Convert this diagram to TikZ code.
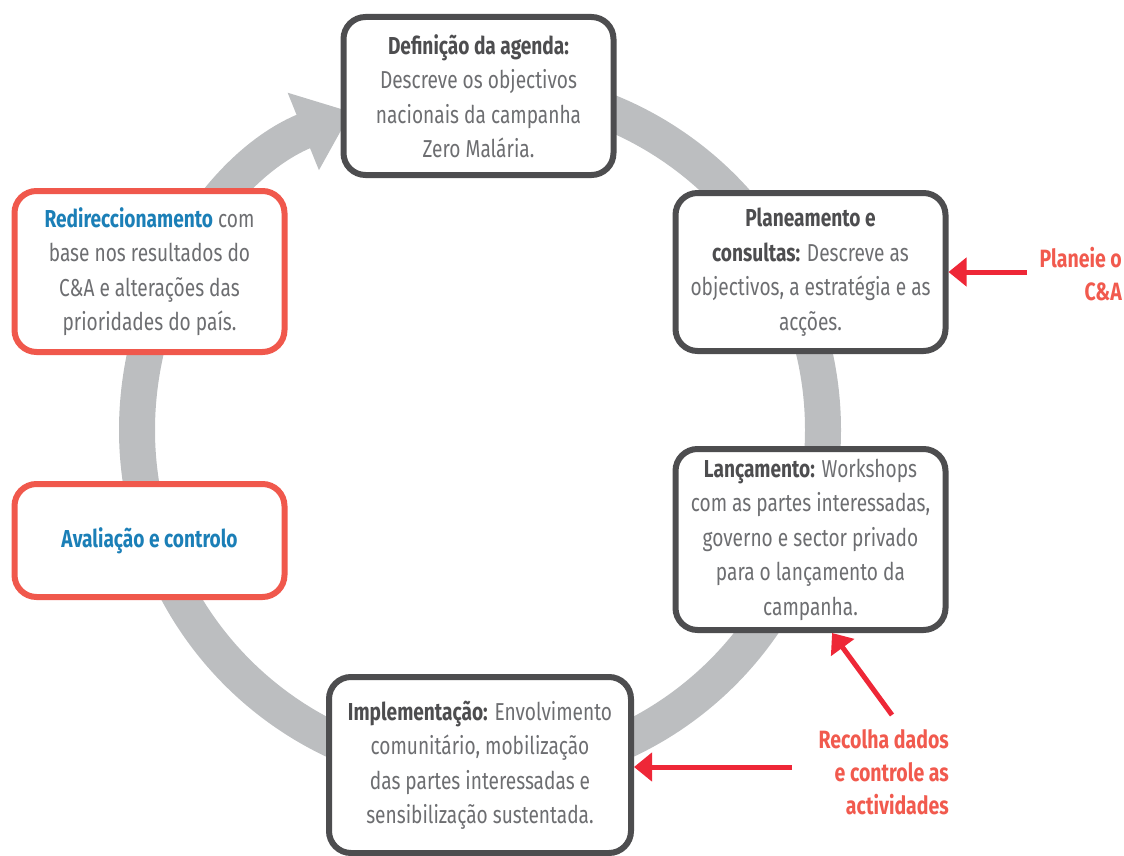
\documentclass[tikz,border=0pt]{standalone}
\usepackage{fontspec}
\setmainfont{Fira Sans}[FakeStretch=0.78]
\usetikzlibrary{arrows.meta}
\definecolor{ringgrey}{HTML}{BCBEC0}
\definecolor{boxgrey}{HTML}{4D4D4F}
\definecolor{txtgrey}{HTML}{6D6E71}
\definecolor{redbox}{HTML}{F0584C}
\definecolor{redarrow}{HTML}{EE2737}
\definecolor{redtxt}{HTML}{F15A4E}
\definecolor{bluetxt}{HTML}{1B7FB7}
\newcommand{\stagehead}[1]{{\bfseries\color{boxgrey}#1}}
\newcommand{\reviewhead}[1]{{\bfseries\color{bluetxt}#1}}
\tikzset{
  stage/.style={draw=boxgrey, line width=6pt, rounded corners=22pt, fill=white,
    align=center, text=txtgrey, inner sep=0pt, minimum width=270pt,
    font=\fontsize{24.5}{34.5}\selectfont},
  review/.style={stage, draw=redbox},
  note/.style={text=redtxt, align=right, inner sep=0pt, font=\fontsize{25}{33}\selectfont\bfseries},
  pointer/.style={draw=redarrow, line width=5pt, -{Triangle[length=18pt,width=28pt]}}
}
\begin{document}
\begin{tikzpicture}[x=1pt,y=-1pt]
        \useasboundingbox (0,0) rectangle (1124,856);
        \draw[ringgrey, line width=36pt, -{Triangle[length=52pt,width=80pt]}]
          (480,430) ++(270:343) arc[start angle=270, end angle=608, radius=343];
        \node[stage, minimum height=158pt] (agenda) at (478.5,96)
          {\stagehead{Definição da agenda:}\\Descreve os objectivos\\nacionais da campanha\\Zero Malária.};
        \node[stage, minimum height=158pt] (planning) at (810.5,272)
          {\stagehead{Planeamento e}\\\stagehead{consultas:} Descreve as\\objectivos, a estratégia e as\\acções.};
        \node[stage, minimum height=181pt] (launch) at (810.5,539.5)
          {\stagehead{Lançamento:} Workshops\\com as partes interessadas,\\governo e sector privado\\para o lançamento da\\campanha.};
        \node[stage, minimum width=302pt, minimum height=176pt] (implement) at (480,765)
          {\stagehead{Implementação:} Envolvimento\\comunitário, mobilização\\das partes interessadas e\\sensibilização sustentada.};
        \node[review, minimum height=161pt] (redirect) at (149.5,271.5)
          {\reviewhead{Redireccionamento} com\\base nos resultados do\\C\&A e alterações das\\prioridades do país.};
        \node[review, minimum height=113pt] (evaluation) at (149.5,540.5)
          {\reviewhead{Avaliação e controlo}};
        \node[note, anchor=north east] (plannote) at (1122,247) {Planeie o\\C\&A};
        \node[note, anchor=north east] (datanote) at (949,729) {Recolha dados\\e controle as\\actividades};
        \coordinate (plantail) at (1027,272);
        \coordinate (launchtail) at (892,715);
        \coordinate (impltail) at (792,767);
        \draw[pointer] (plantail) -- (planning.east);
        \draw[pointer] (launchtail) -- (launch.-77);
        \draw[pointer] (impltail) -- (impltail -| implement.east);
\end{tikzpicture}
\end{document}
